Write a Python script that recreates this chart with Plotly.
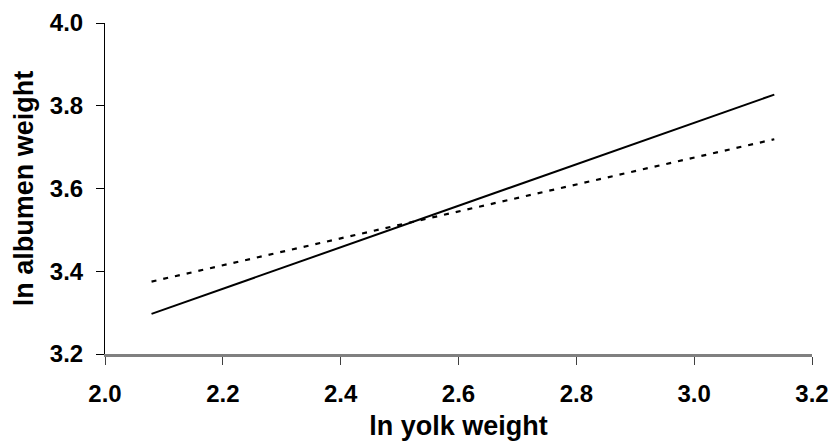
import plotly.graph_objects as go

x_vals = [2.079, 3.136]
solid_y = [3.297, 3.827]
dotted_y = [3.375, 3.719]
x_ticks = [2.0, 2.2, 2.4, 2.6, 2.8, 3.0, 3.2]
y_ticks = [3.2, 3.4, 3.6, 3.8, 4.0]

fig = go.Figure()
fig.add_trace(go.Scatter(x=x_vals, y=solid_y, mode="lines",
                         line=dict(color="black", width=2), showlegend=False))
fig.add_trace(go.Scatter(x=x_vals, y=dotted_y, mode="lines",
                         line=dict(color="black", width=2.2, dash="5px,7px"), showlegend=False))

fam = "Liberation Sans, Arial, sans-serif"
fig.update_layout(
    width=832, height=441,
    margin=dict(l=105, r=20, t=23, b=87, autoexpand=False),
    plot_bgcolor="white", paper_bgcolor="white",
    font=dict(family=fam, size=16, color="black"),
    hovermode=False,
    xaxis=dict(range=[2.0, 3.2], tickvals=x_ticks, tickformat=".1f",
               showgrid=False, zeroline=False, showline=True, linecolor="#808080", linewidth=2.5,
               ticks="outside", ticklen=8, tickcolor="#404040", tickwidth=1,
               ticklabelstandoff=8,
               tickfont=dict(family=fam, size=24, color="black", weight="bold"),
               title=dict(text="<b>ln yolk weight</b>", font=dict(family=fam, size=27, color="black"), standoff=14)),
    yaxis=dict(range=[3.2, 4.0], tickvals=y_ticks, tickformat=".1f",
               showgrid=False, zeroline=False, showline=True, linecolor="black", linewidth=1,
               ticks="outside", ticklen=8, tickcolor="black", tickwidth=1,
               ticklabelstandoff=8,
               tickfont=dict(family=fam, size=24, color="black", weight="bold"),
               title=dict(text="<b>ln albumen weight</b>", font=dict(family=fam, size=27, color="black"), standoff=8)),
)
fig.write_html("out.html", config={"displayModeBar": False},
               post_script="document.body.style.margin='0';document.body.style.overflow='hidden';")
